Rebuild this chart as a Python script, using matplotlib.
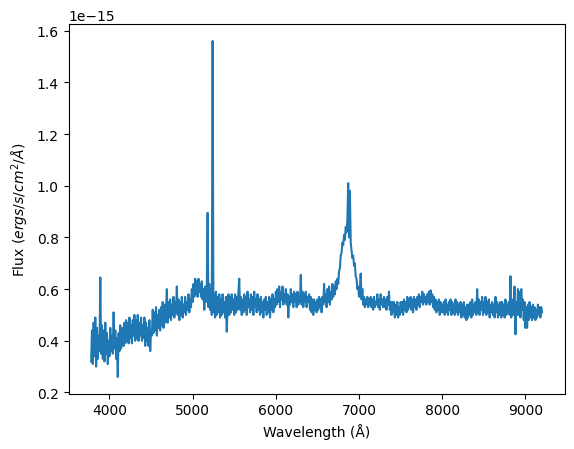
import matplotlib
matplotlib.use("Agg")
import matplotlib.pyplot as plt
import numpy as np

# Spectrum sampled every 10 Angstrom, starting at 3780 A
WAVE_START = 3780
WAVE_STEP = 10

# flux in units of 1e-15 ergs/s/cm^2/A
flux_e15 = [
    # 3780 - 3900
    0.32, 0.44, 0.31, 0.47, 0.34, 0.49, 0.30, 0.45, 0.33, 0.42, 0.36, 0.645, 0.35,
    # 3910 - 4000
    0.46, 0.33, 0.44, 0.32, 0.47, 0.35, 0.43, 0.31, 0.40, 0.34,
    # 4010 ...
    0.45, 0.36, 0.42, 0.35, 0.51, 0.37, 0.44, 0.33, 0.41, 0.26,
    0.43, 0.36, 0.46, 0.37, 0.40, 0.45, 0.38, 0.47, 0.39, 0.48,
    0.40, 0.47, 0.39, 0.49, 0.41, 0.46, 0.39, 0.48, 0.42, 0.50,
    0.40, 0.48, 0.41, 0.50, 0.40, 0.47, 0.42, 0.49, 0.40, 0.46,
    0.41, 0.49, 0.38, 0.47, 0.40, 0.45, 0.38, 0.48, 0.36, 0.44,
    0.42, 0.52, 0.43, 0.51, 0.44, 0.53, 0.42, 0.50, 0.45, 0.52,
    0.44, 0.53, 0.46, 0.55, 0.45, 0.54, 0.47, 0.52, 0.60, 0.47,
    0.55, 0.49, 0.56, 0.48, 0.54, 0.50, 0.57, 0.49, 0.55, 0.51,
    0.61, 0.50, 0.56, 0.48, 0.55, 0.50, 0.57, 0.49, 0.54, 0.51,
    0.57, 0.50, 0.55, 0.52, 0.58, 0.51, 0.56, 0.53, 0.60, 0.55,
    # 5010 ...
    0.62, 0.57, 0.64, 0.58, 0.63, 0.57, 0.64, 0.59, 0.62, 0.57,
    0.63, 0.56, 0.60, 0.52, 0.61, 0.55, 0.60, 0.895, 0.53, 0.62,
    0.52, 0.60, 0.50, 1.56, 0.51, 0.58, 0.49, 0.59, 0.50, 0.57,
    0.51, 0.58, 0.49, 0.56, 0.50, 0.58, 0.51, 0.55, 0.49, 0.57,
    0.435, 0.52, 0.58, 0.50, 0.57, 0.51, 0.58, 0.52, 0.56, 0.50,
    0.58, 0.51, 0.57, 0.52, 0.59, 0.64, 0.52, 0.57, 0.50, 0.56,
    0.51, 0.58, 0.52, 0.57, 0.50, 0.59, 0.53, 0.56, 0.51, 0.58,
    0.52, 0.57, 0.50, 0.59, 0.53, 0.56, 0.51, 0.58, 0.52, 0.56,
    0.50, 0.57, 0.51, 0.55, 0.49, 0.56, 0.52, 0.57, 0.50, 0.55,
    0.51, 0.57, 0.49, 0.56, 0.52, 0.58, 0.51, 0.56, 0.53, 0.59,
    # 6010 ...
    0.54, 0.60, 0.55, 0.61, 0.53, 0.59, 0.56, 0.61, 0.54, 0.58,
    0.55, 0.60, 0.54, 0.58, 0.49, 0.57, 0.54, 0.60, 0.55, 0.58,
    0.53, 0.59, 0.55, 0.58, 0.53, 0.59, 0.54, 0.57, 0.55, 0.655,
    0.54, 0.59, 0.53, 0.58, 0.55, 0.59, 0.53, 0.57, 0.55, 0.58,
    0.52, 0.57, 0.51, 0.56, 0.50, 0.56, 0.52, 0.55, 0.51, 0.56,
    0.52, 0.57, 0.53, 0.56, 0.51, 0.57, 0.54, 0.62, 0.55, 0.58,
    0.53, 0.60, 0.55, 0.61, 0.54, 0.59, 0.56, 0.62, 0.57, 0.61,
    0.58, 0.63, 0.60, 0.64, 0.62, 0.67, 0.68, 0.73, 0.74, 0.78,
    0.77, 0.81, 0.79, 0.84, 0.82, 0.87, 1.01, 0.80, 0.98, 0.78,
    0.75, 0.72, 0.73, 0.69, 0.70, 0.65, 0.64, 0.60, 0.61, 0.57,
    # 7010 ...
    0.59, 0.66, 0.56, 0.60, 0.54, 0.57, 0.53, 0.56, 0.54, 0.57,
    0.53, 0.56, 0.54, 0.57, 0.53, 0.56, 0.52, 0.57, 0.53, 0.55,
    0.54, 0.58, 0.53, 0.56, 0.52, 0.58, 0.54, 0.56, 0.53, 0.57,
    0.53, 0.56, 0.52, 0.57, 0.54, 0.59, 0.52, 0.55, 0.50, 0.55,
    0.51, 0.55, 0.49, 0.54, 0.50, 0.55, 0.49, 0.53, 0.50, 0.55,
    0.51, 0.55, 0.50, 0.56, 0.52, 0.55, 0.51, 0.57, 0.52, 0.56,
    0.53, 0.57, 0.52, 0.56, 0.51, 0.57, 0.53, 0.56, 0.52, 0.57,
    0.54, 0.58, 0.53, 0.57, 0.55, 0.59, 0.54, 0.58, 0.55, 0.57,
    0.54, 0.58, 0.55, 0.59, 0.54, 0.595, 0.55, 0.58, 0.53, 0.57,
    0.52, 0.56, 0.51, 0.55, 0.52, 0.56, 0.50, 0.55, 0.51, 0.54,
    # 8010 ...
    0.51, 0.55, 0.50, 0.56, 0.51, 0.54, 0.50, 0.55, 0.52, 0.56,
    0.50, 0.55, 0.51, 0.54, 0.50, 0.56, 0.51, 0.55, 0.50, 0.54,
    0.51, 0.55, 0.49, 0.54, 0.50, 0.55, 0.49, 0.53, 0.48, 0.54,
    0.49, 0.54, 0.50, 0.55, 0.49, 0.56, 0.50, 0.54, 0.51, 0.55,
    0.50, 0.60, 0.51, 0.56, 0.50, 0.55, 0.52, 0.57, 0.50, 0.55,
    0.51, 0.57, 0.50, 0.55, 0.51, 0.56, 0.49, 0.54, 0.51, 0.55,
    0.50, 0.54, 0.49, 0.57, 0.51, 0.55, 0.49, 0.54, 0.50, 0.55,
    0.49, 0.55, 0.50, 0.54, 0.49, 0.56, 0.50, 0.54, 0.51, 0.55,
    0.50, 0.65, 0.49, 0.56, 0.50, 0.55, 0.61, 0.425, 0.55, 0.50,
    0.60, 0.50, 0.59, 0.49, 0.60, 0.52, 0.56, 0.48, 0.55, 0.45,
    # 9010 - 9200
    0.53, 0.45, 0.54, 0.48, 0.55, 0.49, 0.53, 0.48, 0.54, 0.49,
    0.53, 0.48, 0.52, 0.49, 0.54, 0.50, 0.53, 0.49, 0.53, 0.51,
]

wavelength = WAVE_START + WAVE_STEP * np.arange(len(flux_e15))
flux = np.array(flux_e15) * 1e-15

fig, ax = plt.subplots(figsize=(6.4, 4.8))
ax.plot(wavelength, flux)
ax.set_xlabel("Wavelength (Å)")
ax.set_ylabel(r"Flux ($ergs/s/cm^2/\AA$)")

fig.savefig("out.png", dpi=100, bbox_inches="tight")
plt.close(fig)
